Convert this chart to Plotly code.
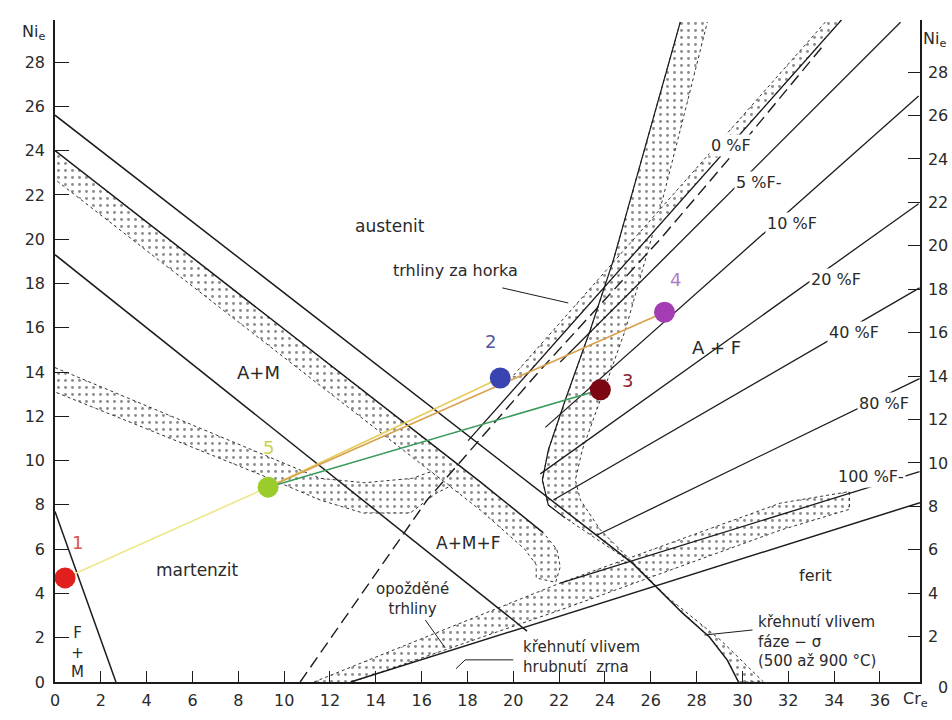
import plotly.graph_objects as go

# ---------------- Schaeffler diagram data (Cr_e, Ni_e) ----------------
# A / A+M boundary
aam_cr = [0.0, 25.2, 27.38, 28.56, 29.34, 29.83]
aam_ni = [25.6, 5.37, 3.12, 2.03, 0.99, 0.0]
# Ms line (A+M / M)
ms_cr = [0.0, 20.6]
ms_ni = [19.3, 2.3]
# M / F+M boundary
mf_cr = [0.0, 2.66]
mf_ni = [7.7, 0.0]
# F / M+F boundary
fm_cr = [12.9, 37.75]
fm_ni = [0.0, 8.1]

# dashed boundary
dash_cr = [10.7, 16.24, 21.18, 26.38, 30.35, 33.62]
dash_ni = [0.0, 8.22, 14.09, 19.96, 24.77, 28.86]

# ferrite lines: start and end (Cr_e, Ni_e)
fer_names = ["0 %F", "5 %F-", "10 %F", "20 %F", "40 %F", "80 %F", "100 %F-"]
fer_cr0 = [18.03, 22.05, 21.4, 21.18, 21.75, 23.67, 22.05]
fer_ni0 = [10.9, 14.45, 11.5, 9.4, 8.22, 6.64, 4.47]
fer_cr1 = [34.32, 36.9, 37.69, 37.69, 37.73, 37.73, 37.73]
fer_ni1 = [29.9, 29.8, 26.47, 21.6, 17.8, 13.7, 9.5]
fer_lab_cr = [29.48, 30.7, 32.18, 34.1, 34.85, 36.2, 35.6]
fer_lab_ni = [24.25, 22.58, 20.73, 18.2, 15.8, 12.6, 9.3]

# dotted bands (closed outlines)
band_am_cr = [0.0, 18.56, 21.3, 21.9, 22.05, 21.85, 21.0, 21.0, 20.5, 18.56, 0.0]
band_am_ni = [24.0, 9.04, 6.75, 6.0, 5.2, 4.5, 4.7, 5.3, 6.0, 7.77, 22.7]
band_low_cr = [0.0, 9.0, 11.57, 13.5, 15.6, 16.4, 17.25, 16.6, 15.5, 13.45, 11.57, 9.0, 0.0]
band_low_ni = [14.2, 10.3, 9.2, 9.0, 9.2, 9.5, 8.85, 8.5, 7.63, 7.63, 8.22, 9.35, 13.1]
band_grain_cr = [11.3, 22.05, 31.66, 34.67, 34.67, 31.66, 22.05, 12.97]
band_grain_ni = [0.0, 4.47, 8.08, 8.6, 7.8, 6.86, 3.25, 0.0]
band_s_cr = [27.29, 26.2, 25.11, 24.37, 23.36, 22.27, 21.53, 21.27, 21.53, 22.27,
             25.2, 27.38, 28.56, 29.34, 29.83,
             30.92, 29.04, 26.72, 23.8, 22.93, 22.71, 23.01, 23.8, 24.89, 25.76, 26.51, 27.51, 28.47]
band_s_ni = [29.81, 25.84, 21.77, 19.06, 15.9, 12.74, 10.48, 9.12, 7.99, 7.41,
             5.37, 3.12, 2.03, 0.99, 0.0,
             0.0, 1.9, 3.84, 6.87, 8.22, 9.12, 10.48, 12.74, 15.9, 19.06, 21.77, 25.84, 29.81]
# hot-cracking band along the upper-left side of the 0 %F line
band_hot_cr = [34.32, 20.5, 19.95, 33.7]
band_hot_ni = [29.9, 13.78, 13.78, 29.9]

# welded materials and mixtures
pt_names = ["1", "2", "3", "4", "5"]
pt_cr = [0.44, 19.43, 23.8, 26.6, 9.3]
pt_ni = [4.7, 13.73, 13.2, 16.7, 8.8]
pt_colors = ["#e0201c", "#3a44b0", "#7c0612", "#a43cb4", "#9ccc2c"]
pt_lab_colors = ["#d9534a", "#55579e", "#8a2030", "#b07cc4", "#c8d44c"]
pt_lab_cr = [0.96, 19.0, 24.98, 27.1, 9.3]
pt_lab_ni = [6.28, 15.36, 13.64, 18.16, 10.57]
# mixing lines (point index pairs) and their colours
mix_pairs = [(0, 4), (4, 1), (4, 3), (4, 2)]
mix_colors = ["#ece888", "#e6cc5a", "#d9a04c", "#3a9a5a"]

# region labels
reg_text = ["austenit", "A+M", "martenzit", "F<br>+<br>M", "A+M+F", "A + F", "ferit",
            "opožděné<br>trhliny", "trhliny za horka"]
reg_cr = [14.6, 8.86, 6.2, 0.96, 18.03, 28.86, 33.19, 15.6, 17.5]
reg_ni = [20.6, 14.0, 5.06, 1.35, 6.28, 15.09, 4.83, 3.75, 18.6]
reg_size = [17, 18, 17, 15, 17, 18, 16, 15, 16]

# right-hand axis tick labels sit on a slightly different scale in the drawing
right_ticks = list(range(2, 29, 2))

INK = "#1c1c1c"
TXT = "#2a2a2a"
FONT = "DejaVu Sans"
fig = go.Figure()


def add_line(x, y, dash="solid", width=1.5, color=INK):
    fig.add_trace(go.Scatter(x=x, y=y, mode="lines", hoverinfo="skip", showlegend=False,
                             line=dict(color=color, width=width, dash=dash)))


def add_band(x, y):
    fig.add_trace(go.Scatter(x=x, y=y, mode="lines", fill="toself", hoverinfo="skip",
                             showlegend=False, line=dict(width=1.0, color="#333", dash="dot"),
                             fillcolor="rgba(0,0,0,0)",
                             fillpattern=dict(shape=".", size=7, solidity=0.14,
                                              fgcolor="#1a1a1a", bgcolor="white")))


for bx, by in [(band_am_cr, band_am_ni), (band_low_cr, band_low_ni),
               (band_grain_cr, band_grain_ni), (band_s_cr, band_s_ni),
               (band_hot_cr, band_hot_ni)]:
    add_band(bx, by)

add_line(aam_cr, aam_ni)
add_line(ms_cr, ms_ni)
add_line(mf_cr, mf_ni)
add_line(fm_cr, fm_ni)
add_line(band_am_cr[:3], band_am_ni[:3])
add_line(band_s_cr[:10], band_s_ni[:10], dash="solid", width=1.2)
add_line(dash_cr, dash_ni, dash="12px,6px", width=1.4)
for i in range(len(fer_names)):
    add_line([fer_cr0[i], fer_cr1[i]], [fer_ni0[i], fer_ni1[i]], width=1.3)

# leader lines
add_line([19.52, 22.4], [17.8, 17.12], width=1.0)
add_line([28.34, 30.44], [2.12, 2.35], width=1.0)
add_line([17.5, 17.9, 20.0], [0.6, 1.0, 1.0], width=1.0)
add_line([16.16, 17.03], [2.8, 1.54], width=1.0)

# mixing lines
for (a, b), c in zip(mix_pairs, mix_colors):
    add_line([pt_cr[a], pt_cr[b]], [pt_ni[a], pt_ni[b]], width=1.6, color=c)

fig.add_trace(go.Scatter(x=pt_cr, y=pt_ni, mode="markers", hoverinfo="skip", showlegend=False,
                         marker=dict(size=21, color=pt_colors, line=dict(width=0))))

for t, x, y, s in zip(reg_text, reg_cr, reg_ni, reg_size):
    fig.add_annotation(x=x, y=y, text=t, showarrow=False,
                       font=dict(family=FONT, size=s, color=TXT))
for t, x, y in zip(fer_names, fer_lab_cr, fer_lab_ni):
    fig.add_annotation(x=x, y=y, text=t, showarrow=False, bgcolor="white",
                       font=dict(family=FONT, size=16, color=TXT))
fig.add_annotation(x=20.35, y=1.13, xanchor="left", text="křehnutí vlivem<br>hrubnutí  zrna",
                   showarrow=False, align="left", font=dict(family=FONT, size=15, color=TXT))
fig.add_annotation(x=30.6, y=1.85, xanchor="left",
                   text="křehnutí vlivem<br>fáze − σ<br>(500 až 900 °C)",
                   showarrow=False, align="left", font=dict(family=FONT, size=15, color=TXT))
for t, x, y, c in zip(pt_names, pt_lab_cr, pt_lab_ni, pt_lab_colors):
    fig.add_annotation(x=x, y=y, text=t, showarrow=False,
                       font=dict(family=FONT, size=18, color=c))

# axis captions
fig.add_annotation(xref="paper", yref="paper", x=-0.04, y=1.0, text="Ni<sub>e</sub>",
                   showarrow=False, font=dict(family=FONT, size=16, color=TXT))
fig.add_annotation(xref="paper", yref="paper", x=1.032, y=0.99, text="Ni<sub>e</sub>",
                   showarrow=False, font=dict(family=FONT, size=16, color=TXT))
fig.add_annotation(xref="paper", yref="paper", x=1.012, y=-0.045, text="Cr<sub>e</sub>",
                   showarrow=False, font=dict(family=FONT, size=16, color=TXT))
fig.add_annotation(xref="paper", yref="paper", x=1.035, y=-0.025, text="0",
                   showarrow=False, font=dict(family=FONT, size=16, color=TXT))

# right-hand axis carrier
fig.add_trace(go.Scatter(x=[0], y=[0], yaxis="y2", mode="markers", marker=dict(opacity=0),
                         hoverinfo="skip", showlegend=False))

XMAX, YMAX = 37.75, 29.9
tickfont = dict(family=FONT, size=16, color=TXT)
fig.update_layout(
    width=952, height=720, paper_bgcolor="white", plot_bgcolor="white",
    margin=dict(l=55, r=32, t=20, b=38, autoexpand=False),
    xaxis=dict(range=[0, XMAX], tickvals=list(range(0, 37, 2)), ticks="inside", ticklen=11,
               tickcolor=INK, showline=True, linecolor=INK, linewidth=1.5, showgrid=False,
               zeroline=False, tickfont=tickfont, ticklabelstandoff=3, automargin=False),
    yaxis=dict(range=[0, YMAX], tickvals=list(range(0, 29, 2)), ticks="inside", ticklen=14,
               tickcolor=INK, showline=True, linecolor=INK, linewidth=1.5, showgrid=False,
               zeroline=False, tickfont=tickfont, ticklabelstandoff=5, automargin=False),
    yaxis2=dict(range=[-0.09, 30.4], overlaying="y", side="right", tickvals=right_ticks,
                ticks="inside", ticklen=12, tickcolor=INK, showline=True, linecolor=INK,
                linewidth=1.5, showgrid=False, zeroline=False, tickfont=tickfont,
                ticklabelstandoff=3, automargin=False),
)

fig.write_html("out.html")
